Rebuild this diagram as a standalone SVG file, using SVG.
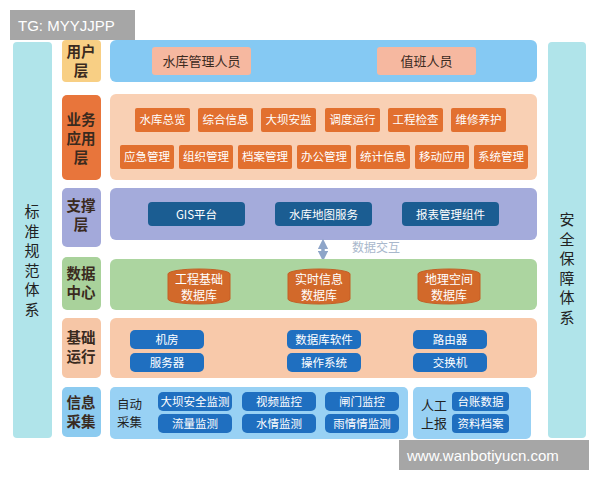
<svg xmlns="http://www.w3.org/2000/svg" width="600" height="480" viewBox="0 0 600 480">
<defs>
<style>
text{font-family:"Noto Sans CJK SC","Noto Sans",sans-serif;}
.side{fill:#b0e4ea;}
.sidet{font-size:15px;fill:#222;text-anchor:middle;}
.lbl{font-size:14.5px;font-weight:bold;fill:#3a2a1e;text-anchor:middle;}
.it{font-size:11.5px;fill:#fff;text-anchor:middle;}
.biz{fill:#e2702f;}
.sup{fill:#1b5d92;}
.bas{fill:#1f6fc0;}
.db{fill:#d2692a;stroke:#c45f25;}
.dbt{font-size:12px;fill:#fff;text-anchor:middle;}
.wm{fill:#a6a6a6;}
.wmt{font-family:"Liberation Sans",Arial,sans-serif;fill:#fff;font-size:15px;}
</style>
<marker id="ah" viewBox="0 0 10 10" refX="5" refY="5" markerWidth="3" markerHeight="3" orient="auto-start-reverse"><path d="M0,0L10,5L0,10z" fill="#8ea5c8"/></marker>
</defs>
<rect width="600" height="480" fill="#fff"/>

<g id="standard">
<rect class="side" x="13" y="42" width="39" height="396" rx="4"/>
<text class="sidet" x="32" y="217">标</text>
<text class="sidet" x="32" y="236.5">准</text>
<text class="sidet" x="32" y="256">规</text>
<text class="sidet" x="32" y="275.5">范</text>
<text class="sidet" x="32" y="295">体</text>
<text class="sidet" x="32" y="314.5">系</text>
</g>
<g id="security">
<rect class="side" x="548" y="42" width="38" height="396" rx="4"/>
<text class="sidet" x="567" y="225">安</text>
<text class="sidet" x="567" y="244.5">全</text>
<text class="sidet" x="567" y="264">保</text>
<text class="sidet" x="567" y="283.5">障</text>
<text class="sidet" x="567" y="303">体</text>
<text class="sidet" x="567" y="322.5">系</text>
</g>

<g id="user-layer">
<rect x="62" y="40" width="39" height="42" rx="4" fill="#f8cf84"/>
<text class="lbl" x="81" y="56.5">用户</text>
<text class="lbl" x="81" y="76">层</text>
<rect x="110" y="40" width="427" height="42" rx="6" fill="#85c9f3"/>
<rect x="152" y="47" width="99" height="28" rx="3" fill="#f6b8a0"/>
<text x="201.5" y="66" font-size="13" fill="#3a2a1e" text-anchor="middle">水库管理人员</text>
<rect x="377" y="47" width="99" height="28" rx="3" fill="#f6b8a0"/>
<text x="426.5" y="66" font-size="13" fill="#3a2a1e" text-anchor="middle">值班人员</text>
</g>

<g id="business-layer">
<rect x="62" y="95" width="39" height="85" rx="5" fill="#e8753b"/>
<text class="lbl" x="81" y="125">业务</text>
<text class="lbl" x="81" y="144">应用</text>
<text class="lbl" x="81" y="163">层</text>
<rect x="110" y="94" width="427" height="86" rx="6" fill="#f9d0b4"/>
<rect class="biz" x="135" y="108" width="55" height="24" rx="2"/><text class="it" x="162.5" y="124">水库总览</text>
<rect class="biz" x="198" y="108" width="55" height="24" rx="2"/><text class="it" x="225.5" y="124">综合信息</text>
<rect class="biz" x="261" y="108" width="55" height="24" rx="2"/><text class="it" x="288.5" y="124">大坝安监</text>
<rect class="biz" x="325" y="108" width="55" height="24" rx="2"/><text class="it" x="352.5" y="124">调度运行</text>
<rect class="biz" x="388" y="108" width="55" height="24" rx="2"/><text class="it" x="415.5" y="124">工程检查</text>
<rect class="biz" x="451" y="108" width="55" height="24" rx="2"/><text class="it" x="478.5" y="124">维修养护</text>
<rect class="biz" x="120" y="145" width="54" height="24" rx="2"/><text class="it" x="147" y="161">应急管理</text>
<rect class="biz" x="179" y="145" width="54" height="24" rx="2"/><text class="it" x="206" y="161">组织管理</text>
<rect class="biz" x="238" y="145" width="54" height="24" rx="2"/><text class="it" x="265" y="161">档案管理</text>
<rect class="biz" x="297" y="145" width="54" height="24" rx="2"/><text class="it" x="324" y="161">办公管理</text>
<rect class="biz" x="356" y="145" width="54" height="24" rx="2"/><text class="it" x="383" y="161">统计信息</text>
<rect class="biz" x="415" y="145" width="54" height="24" rx="2"/><text class="it" x="442" y="161">移动应用</text>
<rect class="biz" x="474" y="145" width="54" height="24" rx="2"/><text class="it" x="501" y="161">系统管理</text>
</g>

<g id="support-layer">
<rect x="62" y="188" width="39" height="59" rx="5" fill="#a3a9da"/>
<text class="lbl" x="81" y="211">支撑</text>
<text class="lbl" x="81" y="230">层</text>
<rect x="110" y="188" width="427" height="52" rx="6" fill="#a4abdb"/>
<rect class="sup" x="148" y="202" width="97" height="24" rx="4"/><text class="it" x="196.5" y="219" font-size="12.5">GIS平台</text>
<rect class="sup" x="275" y="202" width="97" height="24" rx="4"/><text class="it" x="323.5" y="219" font-size="12.5">水库地图服务</text>
<rect class="sup" x="402" y="202" width="97" height="24" rx="4"/><text class="it" x="450.5" y="219" font-size="12.5">报表管理组件</text>
</g>

<g id="connectors">
<line x1="323" y1="244" x2="323" y2="256" stroke="#8ea5c8" stroke-width="3.5" marker-start="url(#ah)" marker-end="url(#ah)"/>
<text x="352" y="252" font-size="12" fill="#a9b8cc">数据交互</text>
</g>

<g id="data-layer">
<rect x="62" y="257" width="39" height="53" rx="5" fill="#a9d29b"/>
<text class="lbl" x="81" y="279">数据</text>
<text class="lbl" x="81" y="298">中心</text>
<rect x="110" y="259" width="427" height="51" rx="6" fill="#acd5a0"/>
<path class="db" d="M168,274 a31,5 0 0 1 62,0 v25 a31,5 0 0 1 -62,0z"/>
<text class="dbt" x="199" y="284">工程基础</text><text class="dbt" x="199" y="299.5">数据库</text>
<path class="db" d="M288,274 a31,5 0 0 1 62,0 v25 a31,5 0 0 1 -62,0z"/>
<text class="dbt" x="319" y="284">实时信息</text><text class="dbt" x="319" y="299.5">数据库</text>
<path class="db" d="M418,274 a31,5 0 0 1 62,0 v25 a31,5 0 0 1 -62,0z"/>
<text class="dbt" x="449" y="284">地理空间</text><text class="dbt" x="449" y="299.5">数据库</text>
</g>

<g id="basic-layer">
<rect x="62" y="318" width="39" height="60" rx="5" fill="#f6c6a6"/>
<text class="lbl" x="81" y="343">基础</text>
<text class="lbl" x="81" y="362">运行</text>
<rect x="110" y="318" width="427" height="60" rx="6" fill="#f8c9aa"/>
<rect class="bas" x="130" y="330" width="74" height="19" rx="5"/><text class="it" x="167" y="344">机房</text>
<rect class="bas" x="130" y="353" width="74" height="19" rx="5"/><text class="it" x="167" y="367">服务器</text>
<rect class="bas" x="287" y="330" width="74" height="19" rx="5"/><text class="it" x="324" y="344">数据库软件</text>
<rect class="bas" x="287" y="353" width="74" height="19" rx="5"/><text class="it" x="324" y="367">操作系统</text>
<rect class="bas" x="413" y="330" width="74" height="19" rx="5"/><text class="it" x="450" y="344">路由器</text>
<rect class="bas" x="413" y="353" width="74" height="19" rx="5"/><text class="it" x="450" y="367">交换机</text>
</g>

<g id="info-layer">
<rect x="62" y="387" width="39" height="50" rx="5" fill="#8ccbf0"/>
<text class="lbl" x="81" y="408">信息</text>
<text class="lbl" x="81" y="427">采集</text>
<rect x="110" y="387" width="298" height="52" rx="5" fill="#98d1f4"/>
<text x="117" y="409" font-size="12.5" fill="#222">自动</text>
<text x="117" y="427" font-size="12.5" fill="#222">采集</text>
<rect class="bas" x="158" y="392" width="74" height="19" rx="5"/><text class="it" x="195" y="406">大坝安全监测</text>
<rect class="bas" x="158" y="414" width="74" height="19" rx="5"/><text class="it" x="195" y="428">流量监测</text>
<rect class="bas" x="242" y="392" width="74" height="19" rx="5"/><text class="it" x="279" y="406">视频监控</text>
<rect class="bas" x="242" y="414" width="74" height="19" rx="5"/><text class="it" x="279" y="428">水情监测</text>
<rect class="bas" x="325" y="392" width="74" height="19" rx="5"/><text class="it" x="362" y="406">闸门监控</text>
<rect class="bas" x="325" y="414" width="74" height="19" rx="5"/><text class="it" x="362" y="428">雨情情监测</text>
<rect x="413" y="387" width="118" height="52" rx="5" fill="#98d1f4"/>
<text x="421" y="410" font-size="13" fill="#222">人工</text>
<text x="421" y="428" font-size="13" fill="#222">上报</text>
<rect class="bas" x="452" y="392" width="57" height="19" rx="4"/><text class="it" x="480.5" y="406">台账数据</text>
<rect class="bas" x="452" y="414" width="57" height="19" rx="4"/><text class="it" x="480.5" y="428">资料档案</text>
</g>

<g id="watermarks">
<rect class="wm" x="10" y="10" width="125" height="30"/>
<text class="wmt" x="18" y="31">TG: MYYJJPP</text>
<rect class="wm" x="399" y="440" width="190" height="30"/>
<text class="wmt" x="407" y="461">www.wanbotiyucn.com</text>
</g>
</svg>
